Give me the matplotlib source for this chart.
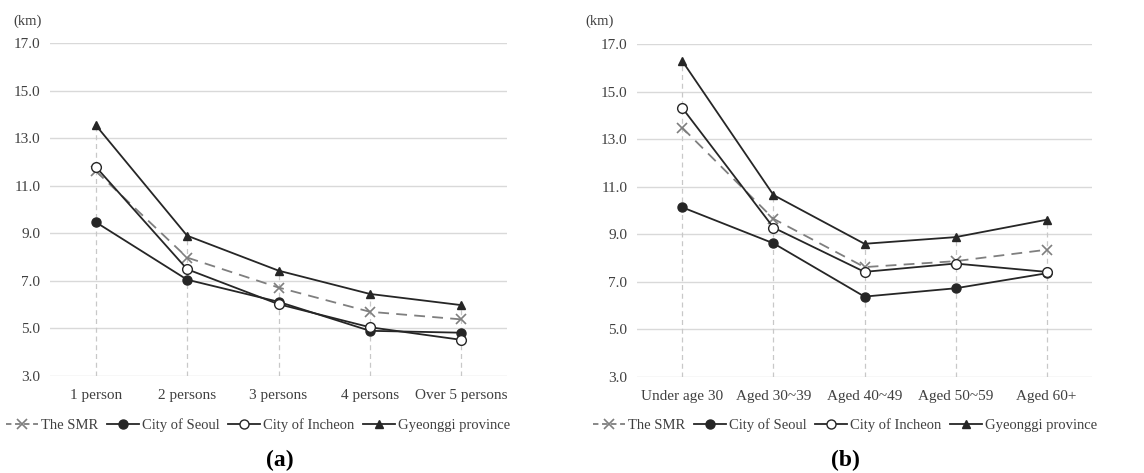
import matplotlib
matplotlib.use("Agg")
import matplotlib.pyplot as plt
from matplotlib.lines import Line2D

plt.rcParams['font.family'] = ['Liberation Serif', 'DejaVu Serif']

cats_a = ["1 person", "2 persons", "3 persons", "4 persons", "Over 5 persons"]
smr_a = [11.62, 7.98, 6.72, 5.70, 5.38]
seoul_a = [9.47, 7.05, 6.12, 4.90, 4.82]
incheon_a = [11.80, 7.49, 6.02, 5.05, 4.52]
gyeonggi_a = [13.55, 8.90, 7.43, 6.45, 5.98]

cats_b = ["Under age 30", "Aged 30~39", "Aged 40~49", "Aged 50~59", "Aged 60+"]
smr_b = [13.47, 9.65, 7.62, 7.87, 8.35]
seoul_b = [10.13, 8.62, 6.38, 6.73, 7.36]
incheon_b = [14.30, 9.28, 7.42, 7.77, 7.42]
gyeonggi_b = [16.27, 10.65, 8.60, 8.88, 9.61]

yticks = [3.0, 5.0, 7.0, 9.0, 11.0, 13.0, 15.0, 17.0]
series_names = ["The SMR", "City of Seoul", "City of Incheon", "Gyeonggi province"]

W, H = 1144, 473
fig = plt.figure(figsize=(W / 100, H / 100), dpi=100)

TXT = "#404040"
LINE = "#262626"

def px_axes(x0, x1, ytop, ybot):
    return fig.add_axes([x0 / W, 1 - ybot / H, (x1 - x0) / W, (ybot - ytop) / H])

def draw(ax, cats, smr, seoul, inch, gy):
    x = list(range(len(cats)))
    for i in x:
        top = max(smr[i], seoul[i], inch[i], gy[i])
        ax.plot([i, i], [3.0, top], color="#c8c8c8", lw=0.9, ls=(0, (4, 3)), zorder=1)
    ax.plot(x, smr, color="#7f7f7f", lw=1.3, ls=(0, (6, 4)), marker="x", ms=7,
            mew=1.2, zorder=3)
    ax.plot(x, seoul, color=LINE, lw=1.3, marker="o", ms=6.5, zorder=3)
    ax.plot(x, inch, color=LINE, lw=1.3, marker="o", ms=7, mfc="white",
            mec=LINE, mew=1.0, zorder=4)
    ax.plot(x, gy, color=LINE, lw=1.3, marker="^", ms=6, zorder=3)
    ax.set_xlim(-0.5, len(cats) - 0.5)
    ax.set_ylim(3.0, 17.0)
    ax.set_yticks(yticks)
    ax.set_yticklabels([f"{v:.1f}" for v in yticks])
    ax.set_xticks(x)
    ax.set_xticklabels(cats)
    ax.grid(axis="y", color="#d9d9d9", lw=1.0)
    ax.set_axisbelow(True)
    for s in ax.spines.values():
        s.set_visible(False)
    ax.tick_params(length=0, labelsize=11, colors=TXT)
    ax.tick_params(axis="x", pad=9)
    ax.tick_params(axis="y", pad=7)

ax1 = px_axes(50, 507, 43, 376)
draw(ax1, cats_a, smr_a, seoul_a, incheon_a, gyeonggi_a)
ax2 = px_axes(637, 1092, 44, 377)
draw(ax2, cats_b, smr_b, seoul_b, incheon_b, gyeonggi_b)

fig.text(13 / W, 1 - 21 / H, "(km)", fontsize=10.5, color=TXT, va="center", ha="left")
fig.text(585 / W, 1 - 21 / H, "(km)", fontsize=10.5, color=TXT, va="center", ha="left")

handles = [
    Line2D([], [], color="#7f7f7f", lw=1.3, ls=(0, (3, 2)), marker="x", ms=7, mew=1.2),
    Line2D([], [], color=LINE, lw=1.3, marker="o", ms=6.5),
    Line2D([], [], color=LINE, lw=1.3, marker="o", ms=6.5, mfc="white", mec=LINE),
    Line2D([], [], color=LINE, lw=1.3, marker="^", ms=6),
]

for cx in (258, 845):
    fig.legend(handles, series_names, loc="center", ncol=4, frameon=False,
               bbox_to_anchor=(cx / W, 1 - 425 / H), fontsize=10.5,
               handlelength=2.2, handletextpad=0.2, columnspacing=0.6,
               labelcolor=TXT)

fig.text(280 / W, 1 - 460 / H, "(a)", fontsize=17, fontweight="bold", color="black",
         ha="center", va="center")
fig.text(845 / W, 1 - 460 / H, "(b)", fontsize=17, fontweight="bold", color="black",
         ha="center", va="center")

fig.savefig("out.png", dpi=100, facecolor="white")
